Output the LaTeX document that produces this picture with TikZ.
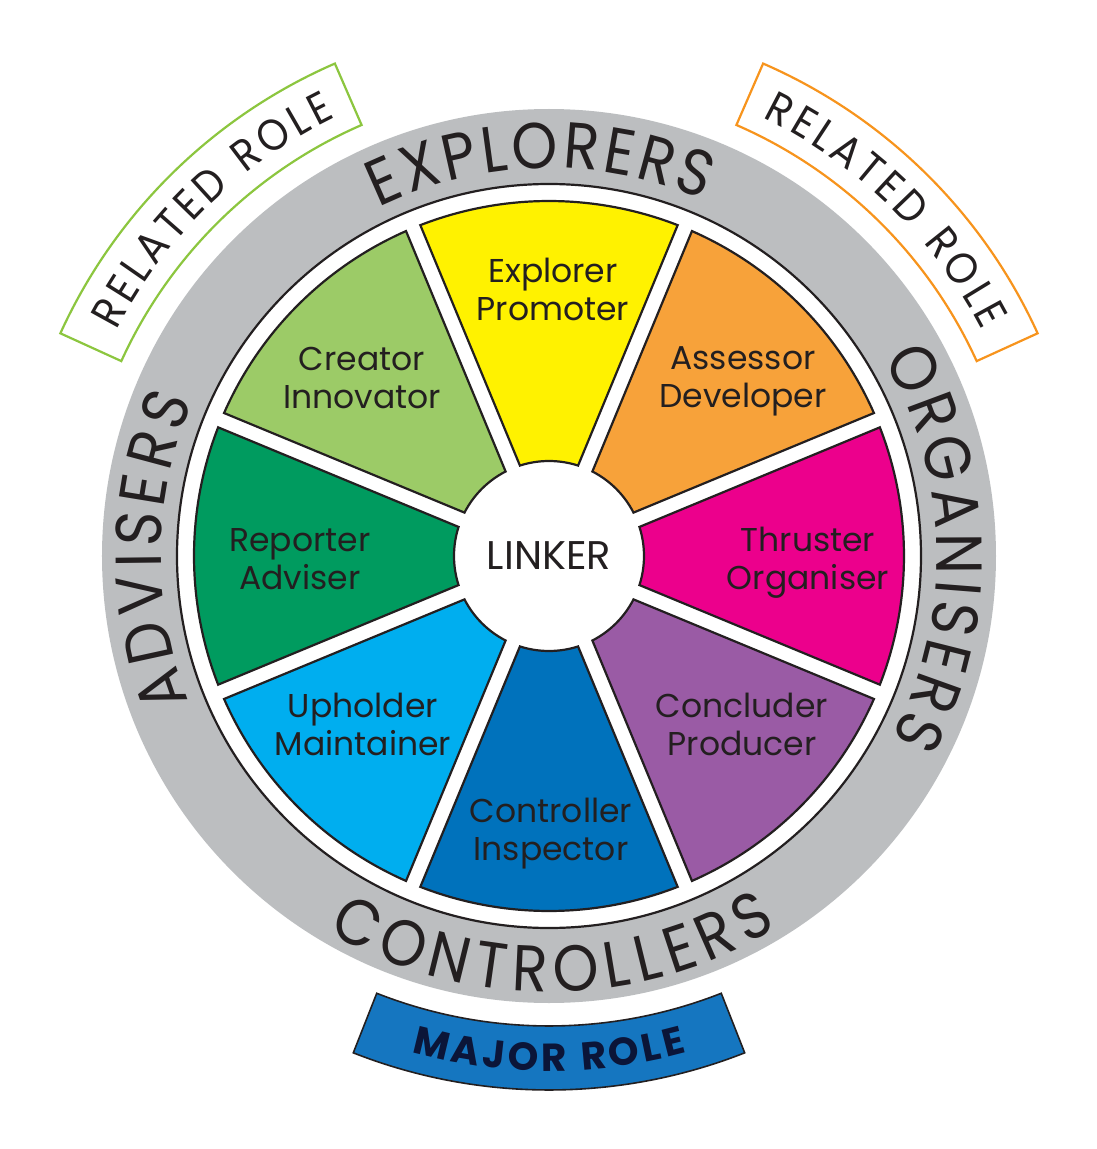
\documentclass[tikz,border=0pt]{standalone}
\usepackage{fontspec}
\setmainfont{Poppins}
\newfontfamily\ringfont[FakeStretch=0.9]{Poppins}
\usetikzlibrary{decorations.text}
\definecolor{ringgrey}{HTML}{BCBEC0}
\definecolor{cyellow}{HTML}{FFF200}
\definecolor{corange}{HTML}{F7A23A}
\definecolor{cmagenta}{HTML}{EC008C}
\definecolor{cpurple}{HTML}{9A5BA5}
\definecolor{cblue}{HTML}{0072BC}
\definecolor{clightblue}{HTML}{00AEEF}
\definecolor{cgreen}{HTML}{009B5F}
\definecolor{clightgreen}{HTML}{9CCB67}
\definecolor{relgreen}{HTML}{8CC63F}
\definecolor{relorange}{HTML}{F7941D}
\definecolor{majorblue}{HTML}{1576C0}
\definecolor{majortext}{HTML}{0B1538}
\definecolor{textblack}{HTML}{231F20}
\tikzset{
  seglabel/.style={align=center, inner sep=0pt, text=textblack,
    font=\fontsize{33}{38}\selectfont},
  segline/.style={draw=textblack, line width=2.2pt},
  rolebox/.style={line width=2.2pt, fill=white},
}
\newcommand{\ringtext}[4]{% text, radius, start, end
  \path[decorate, decoration={text along path, text align=fit to path,
    text={|\ringfont\fontsize{65}{65}\selectfont\color{textblack}|#1}}]
    (#3:#2) arc[start angle=#3, end angle=#4, radius=#2];}
\newcommand{\roletext}[4]{%
  \path[decorate, decoration={text along path, text align=fit to path,
    text={|\ringfont\fontsize{44}{44}\selectfont\color{textblack}|#1}}]
    (#3:#2) arc[start angle=#3, end angle=#4, radius=#2];}
\begin{document}
\begin{tikzpicture}[x=1pt,y=1pt]
\useasboundingbox (-549,-593) rectangle (547,556);
% grey ring
\fill[ringgrey, even odd rule] (0,0) circle[radius=447] (0,0) circle[radius=372];
\draw[textblack, line width=2.2pt] (0,0) circle[radius=372];
% segments
\def\Rout{355}\def\Rin{95}\def\ao{1.25}\def\ai{4.68}
\foreach \c/\col in {90/cyellow, 45/corange, 0/cmagenta, -45/cpurple,
                     -90/cblue, -135/clightblue, 180/cgreen, 135/clightgreen}{
  \pgfmathsetmacro\aA{\c-22.5+\ai}
  \pgfmathsetmacro\aB{\c-22.5+\ao}
  \pgfmathsetmacro\aC{\c+22.5-\ao}
  \pgfmathsetmacro\aD{\c+22.5-\ai}
  \fill[\col, segline] (\aA:\Rin) -- (\aB:\Rout)
     arc[start angle=\aB, end angle=\aC, radius=\Rout]
     -- (\aD:\Rin) arc[start angle=\aD, end angle=\aA, radius=\Rin] -- cycle;
}
% segment labels
\node[seglabel] (explorer)   at (4,267)     {Explorer\\Promoter};
\node[seglabel] (assessor)   at (194,175)   {Assessor\\Developer};
\node[seglabel] (thruster)   at (259,-7)    {Thruster\\Organiser};
\node[seglabel] (concluder)  at (193,-168)  {Concluder\\Producer};
\node[seglabel] (controller) at (2,-278)    {Controller\\Inspector};
\node[seglabel] (upholder)   at (-186,-168) {Upholder\\Maintainer};
\node[seglabel] (reporter)   at (-249,-3)   {Reporter\\Adviser};
\node[seglabel] (creator)    at (-187,178)  {Creator\\Innovator};
\node[inner sep=0pt, text=textblack, font=\fontsize{40}{40}\selectfont] (linker) at (0,0) {LINKER};
% ring labels
\ringtext{EXPLORERS}{388}{116}{66.5}
\ringtext{ORGANISERS}{388}{30.5}{-28}
\ringtext{ADVISERS}{388}{202}{156.5}
\ringtext{CONTROLLERS}{436}{239.5}{301.5}
% related role boxes
\draw[rolebox, draw=relgreen] (113.5:470) arc[start angle=113.5, end angle=155.5, radius=470]
   -- (155.5:537) arc[start angle=155.5, end angle=113.5, radius=537] -- cycle;
\draw[rolebox, draw=relorange] (24.5:470) arc[start angle=24.5, end angle=66.5, radius=470]
   -- (66.5:537) arc[start angle=66.5, end angle=24.5, radius=537] -- cycle;
\roletext{RELATED ROLE}{488}{152.5}{116}
\roletext{RELATED ROLE}{488}{64}{27.5}
% major role
\fill[majorblue, draw=textblack, line width=1.6pt] (248.5:470) arc[start angle=248.5, end angle=291.5, radius=470]
   -- (291.5:534) arc[start angle=291.5, end angle=248.5, radius=534] -- cycle;
\path[decorate, decoration={text along path, text align=fit to path,
    text={|\bfseries\fontsize{39}{39}\selectfont\color{majortext}|MAJOR ROLE}}]
    (254.5:515) arc[start angle=254.5, end angle=285.5, radius=515];
\end{tikzpicture}
\end{document}
